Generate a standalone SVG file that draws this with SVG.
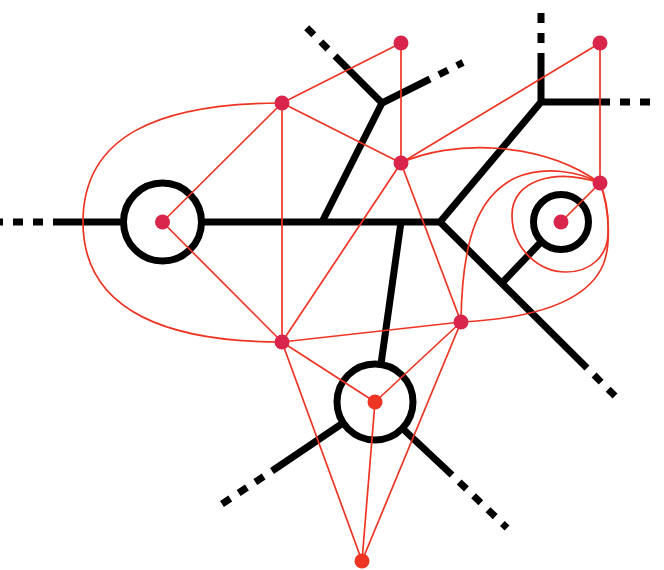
<svg xmlns="http://www.w3.org/2000/svg" width="664" height="570" viewBox="0 0 664 570">
<style>
.road{fill:none;stroke:#000;stroke-width:7;stroke-linecap:butt;stroke-linejoin:miter}
.dash{fill:none;stroke:#000;stroke-width:7;stroke-dasharray:10 10;stroke-dashoffset:10;stroke-linecap:butt}
.ring{fill:none;stroke:#000;stroke-width:7}
.edge{fill:none;stroke:#ee3524;stroke-width:1.7}
.n1{fill:#d9254b}
.n2{fill:#ee3524}
</style>
<rect width="664" height="570" fill="#fff"/>
<g id="roads">
<path class="road" d="M53,222 H123"/>
<path class="dash" d="M53,222 H-7"/>
<path class="road" d="M201,222 H440 L541,102 V53"/>
<path class="dash" d="M541,53 V13"/>
<path class="road" d="M541,102 H610"/>
<path class="dash" d="M610,102 H650"/>
<path class="road" d="M322,222 L382,103 L335,56"/>
<path class="dash" d="M335,56 L306,27"/>
<path class="road" d="M382,103 L430,79"/>
<path class="dash" d="M430,79 L463,62.5"/>
<path class="road" d="M440,222 L587,368"/>
<path class="dash" d="M587,368 L615,396"/>
<path class="road" d="M401,222 L381,364"/>
<path class="road" d="M542,241 L501,284"/>
<path class="road" d="M343,423 L272,471"/>
<path class="dash" d="M272,471 L222,504"/>
<path class="road" d="M402,428 L452,475"/>
<path class="dash" d="M452,475 L507,528"/>
<circle class="ring" cx="162.5" cy="222" r="39"/>
<circle class="ring" cx="375" cy="402" r="38"/>
<circle class="ring" cx="561" cy="222" r="27.5"/>
</g>
<g id="connectors">
<path class="edge" d="M162.5,222 L282,103"/>
<path class="edge" d="M162.5,222 L282,342"/>
<path class="edge" d="M282,103 L401,43"/>
<path class="edge" d="M282,103 L401,163"/>
<path class="edge" d="M282,103 V342"/>
<path class="edge" d="M401,43 V163"/>
<path class="edge" d="M401,163 L600,43"/>
<path class="edge" d="M401,163 L282,342"/>
<path class="edge" d="M401,163 L461,322"/>
<path class="edge" d="M600,43 V183"/>
<path class="edge" d="M600,183 L561,222"/>
<path class="edge" d="M282,342 L461,322"/>
<path class="edge" d="M282,342 L375,402"/>
<path class="edge" d="M282,342 L362,561"/>
<path class="edge" d="M461,322 L375,402"/>
<path class="edge" d="M461,322 L362,561"/>
<path class="edge" d="M375,402 L362,561"/>
<path class="edge" d="M282,103 C160,103 83,135 83,222 C83,315 175,342 282,342"/>
<path class="edge" d="M401,163 C450,140 540,140 600,183"/>
<path class="edge" d="M461,322 C462,235 480,195 515,178 C545,165 580,172 600,183"/>
<path class="edge" d="M600,183 C555,168 512,180 512,215 C512,250 540,272 566,272 C592,272 607,255 608,235 C609,212 605,195 600,183"/>
<path class="edge" d="M461,322 C540,318 588,300 603,265 C611,246 610,210 600,183"/>
</g>
<g id="node-a"><circle class="n1" cx="162.5" cy="222" r="7.5"/></g>
<g id="node-b"><circle class="n1" cx="282" cy="103" r="7.5"/></g>
<g id="node-c"><circle class="n1" cx="401" cy="43" r="7.5"/></g>
<g id="node-d"><circle class="n1" cx="401" cy="163" r="7.5"/></g>
<g id="node-e"><circle class="n1" cx="600" cy="43" r="7.5"/></g>
<g id="node-f"><circle class="n1" cx="600" cy="183" r="7.5"/></g>
<g id="node-g"><circle class="n1" cx="561" cy="222" r="7.5"/></g>
<g id="node-h"><circle class="n1" cx="282" cy="342" r="7.5"/></g>
<g id="node-i"><circle class="n1" cx="461" cy="322" r="7.5"/></g>
<g id="node-j"><circle class="n2" cx="375" cy="402" r="7.5"/></g>
<g id="node-k"><circle class="n2" cx="362" cy="561" r="7.5"/></g>
</svg>
